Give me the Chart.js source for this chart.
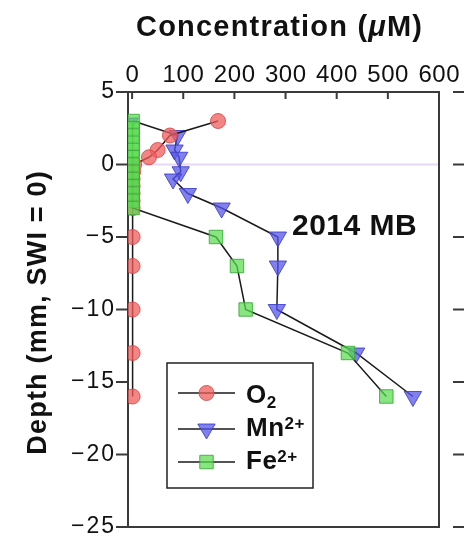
<!DOCTYPE html>
<html lang="en">
<head>
<meta charset="UTF-8" />
<title>Porewater profiles 2014 MB</title>
<style>
  body, html { margin: 0; padding: 0; background: #fff; }
  canvas { display: block; }
</style>
</head>
<body>
<canvas id="profile" width="464" height="538"></canvas>
<script src="https://cdn.jsdelivr.net/npm/chart.js"></script>
<script>
  // depth in mm (SWI = 0), concentration in uM
  const o2Depth = [3, 2, 1, 0.5, 0, -0.5, -1, -1.5, -2, -2.5, -3, -5, -7, -10, -13, -16];
  const o2Conc  = [168, 74, 50, 33, 4, 2, 1, 1, 1, 1, 1, 1, 1, 1, 1, 1];

  const mnDepth = [3, 2, 1, 0.5, -0.5, -1, -2, -3, -5, -7, -10, -13, -16];
  const mnConc  = [2, 89, 83, 92, 95, 80, 109, 175, 285, 285, 283, 438, 549];

  const feDepth = [3, 2.5, 2, 1.5, 1, 0.5, 0, -0.5, -1, -1.5, -2, -2.5, -3, -5, -7, -10, -13, -16];
  const feConc  = [1, 1, 1, 1, 1, 1, 1, 1, 1, 1, 1, 1, 1, 164, 205, 222, 422, 497];

  const xTicks = [0, 100, 200, 300, 400, 500, 600];
  const yTicks = [5, 0, -5, -10, -15, -20, -25];

  const FONT = '"Liberation Sans", Arial, sans-serif';
  const toPoints = (depth, conc) => depth.map((d, i) => ({ x: conc[i], y: d }));

  // draws text one glyph at a time so runs can mix fonts and spacing
  function drawRuns(ctx, runs, x, y, align, spacing) {
    const parts = [];
    let total = 0;
    runs.forEach(r => {
      ctx.font = r.font;
      for (const ch of r.text) {
        const w = ctx.measureText(ch).width;
        parts.push({ ch, w, font: r.font, dy: r.dy || 0 });
        total += w + spacing;
      }
    });
    total -= spacing;
    let cx = align === 'center' ? x - total / 2 : align === 'right' ? x - total : x;
    ctx.textAlign = 'left';
    parts.forEach(p => {
      ctx.font = p.font;
      ctx.fillText(p.ch, cx, y + p.dy);
      cx += p.w + spacing;
    });
  }

  function seg(ctx, x1, y1, x2, y2) {
    ctx.beginPath();
    ctx.moveTo(x1, y1);
    ctx.lineTo(x2, y2);
    ctx.stroke();
  }

  const frame = {
    id: 'frame',
    beforeDatasetsDraw(chart) {
      const { ctx, chartArea: a, scales: { x, y } } = chart;
      ctx.save();
      // sediment-water interface
      const y0 = y.getPixelForValue(0);
      ctx.strokeStyle = '#e6d8f6';
      ctx.lineWidth = 2;
      seg(ctx, a.left, y0, a.right, y0);

      ctx.strokeStyle = '#3a3a3a';
      ctx.lineWidth = 2;
      ctx.strokeRect(a.left, a.top, a.right - a.left, a.bottom - a.top);
      xTicks.forEach(v => {
        const px = x.getPixelForValue(v);
        seg(ctx, px, a.top, px, a.top + 7);
      });
      yTicks.forEach(v => {
        const py = y.getPixelForValue(v);
        seg(ctx, a.left - 12, py, a.left, py);
        // axis of the neighbouring panel
        seg(ctx, a.right + 14, py, chart.width, py);
      });
      ctx.restore();
    },
    afterDraw(chart) {
      const { ctx, chartArea: a, scales: { x, y } } = chart;
      ctx.save();
      ctx.fillStyle = '#111';
      ctx.textBaseline = 'alphabetic';

      // tick labels
      xTicks.forEach(v => {
        drawRuns(ctx, [{ text: String(v), font: '24px ' + FONT }], x.getPixelForValue(v), 82, 'center', 0.6);
      });
      ctx.textBaseline = 'middle';
      yTicks.forEach(v => {
        const t = v < 0 ? '\u2212' + Math.abs(v) : String(v);
        drawRuns(ctx, [{ text: t, font: '23px ' + FONT }], a.left - 14, y.getPixelForValue(v), 'right', 2);
      });
      ctx.textBaseline = 'alphabetic';

      // axis titles
      drawRuns(ctx, [
        { text: 'Concentration (', font: 'bold 29px ' + FONT },
        { text: '\u03bc', font: 'italic bold 29px ' + FONT },
        { text: 'M)', font: 'bold 29px ' + FONT }
      ], 279, 36, 'center', 1.2);

      ctx.save();
      ctx.translate(46, 313);
      ctx.rotate(-Math.PI / 2);
      drawRuns(ctx, [{ text: 'Depth (mm, SWI = 0)', font: 'bold 27px ' + FONT }], 0, 0, 'center', 1.2);
      ctx.restore();

      drawRuns(ctx, [{ text: '2014 MB', font: 'bold 30px ' + FONT }], 292, 235, 'left', 0.5);

      // legend
      ctx.fillStyle = '#fff';
      ctx.fillRect(167, 363, 146, 125);
      ctx.strokeStyle = '#222';
      ctx.lineWidth = 1.5;
      ctx.strokeRect(167, 363, 146, 125);

      const rows = [
        { ds: 0, lineY: 393, base: 403, runs: [
          { text: 'O', font: 'bold 26px ' + FONT },
          { text: '2', font: 'bold 17px ' + FONT, dy: 5 }] },
        { ds: 1, lineY: 429, base: 436, runs: [
          { text: 'Mn', font: 'bold 26px ' + FONT },
          { text: '2+', font: 'bold 17px ' + FONT, dy: -7 }] },
        { ds: 2, lineY: 462, base: 469, runs: [
          { text: 'Fe', font: 'bold 26px ' + FONT },
          { text: '2+', font: 'bold 17px ' + FONT, dy: -7 }] }
      ];
      rows.forEach(r => {
        const d = chart.data.datasets[r.ds];
        ctx.strokeStyle = d.borderColor;
        ctx.lineWidth = d.borderWidth;
        seg(ctx, 178, r.lineY, 235, r.lineY);
        ctx.fillStyle = d.pointBackgroundColor;
        ctx.strokeStyle = d.pointBorderColor;
        ctx.lineWidth = d.pointBorderWidth;
        Chart.helpers.drawPoint(ctx, {
          pointStyle: d.pointStyle, rotation: d.pointRotation || 0,
          radius: d.legendRadius || d.pointRadius, borderWidth: d.pointBorderWidth
        }, 206.5, r.lineY);
        ctx.fillStyle = '#111';
        drawRuns(ctx, r.runs, 246, r.base, 'left', 0.5);
      });
      ctx.restore();
    }
  };

  new Chart(document.getElementById('profile'), {
    type: 'scatter',
    data: {
      datasets: [
        {
          label: 'O2',
          data: toPoints(o2Depth, o2Conc),
          showLine: true,
          borderColor: '#1a1a1a',
          borderWidth: 1.5,
          pointStyle: 'circle',
          pointRadius: 7.5,
          pointBackgroundColor: 'rgba(240, 92, 92, 0.75)',
          pointBorderColor: 'rgba(215, 70, 70, 0.85)',
          pointBorderWidth: 1,
          order: 1
        },
        {
          label: 'Mn2+',
          data: toPoints(mnDepth, mnConc),
          showLine: true,
          borderColor: '#1a1a1a',
          borderWidth: 1.5,
          pointStyle: 'triangle',
          pointRotation: 180,
          // overlying-water sample sits under the Fe column
          pointRadius: c => (c.raw && c.raw.y > 2.5 ? 6 : 10),
          legendRadius: 10,
          pointBackgroundColor: 'rgba(85, 85, 235, 0.75)',
          pointBorderColor: 'rgba(60, 60, 200, 0.85)',
          pointBorderWidth: 1,
          order: 2
        },
        {
          label: 'Fe2+',
          data: toPoints(feDepth, feConc),
          showLine: true,
          borderColor: '#1a1a1a',
          borderWidth: 1.5,
          pointStyle: 'rect',
          pointRadius: 9.5,
          pointBackgroundColor: 'rgba(90, 220, 80, 0.72)',
          pointBorderColor: 'rgba(60, 170, 60, 0.9)',
          pointBorderWidth: 1,
          order: 0
        }
      ]
    },
    options: {
      responsive: false,
      animation: false,
      layout: { padding: { left: 128, top: 92, right: 25, bottom: 10 } },
      plugins: { legend: { display: false }, tooltip: { enabled: false } },
      scales: {
        x: { type: 'linear', min: -8, max: 600, display: false },
        y: { type: 'linear', min: -25, max: 5, display: false }
      }
    },
    plugins: [frame]
  });
</script>
</body>
</html>
